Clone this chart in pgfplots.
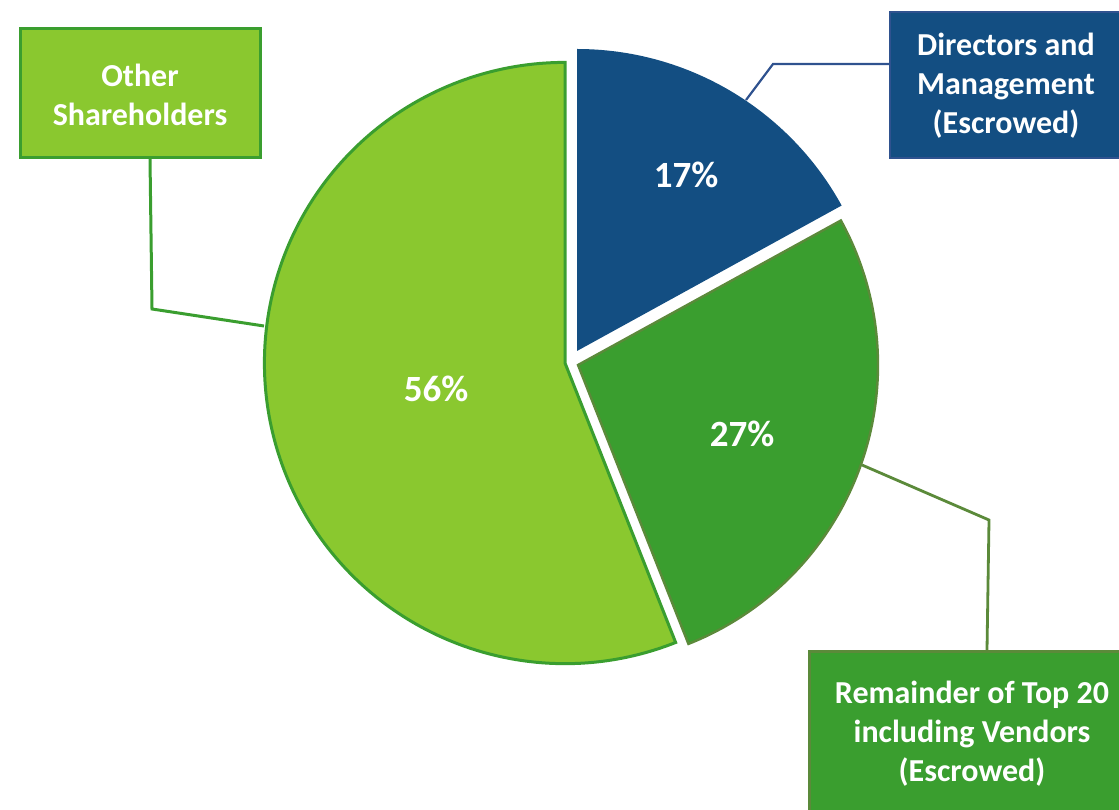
\documentclass[border=0pt]{standalone}
\usepackage{pgfplots}
\pgfplotsset{compat=1.18}
\usepackage{pgfplotstable}
\usepackage{fontspec}
\setmainfont{Carlito}

\definecolor{dirblue}{HTML}{134E82}
\definecolor{dirline}{HTML}{2F528F}
\definecolor{topgreen}{HTML}{3A9E2F}
\definecolor{topline}{HTML}{5B8A3A}
\definecolor{othgreen}{HTML}{8AC82F}
\definecolor{othline}{HTML}{3A9E2F}

% share of each holder group, with the apex of its (exploded) slice in px
\pgfplotstableread{
label value cx cy
Directors 17 577 458
Remainder 27 578 444
Other 56 565 446
}\slices

\pgfplotstablegetelem{0}{value}\of\slices \let\vA\pgfplotsretval
\pgfplotstablegetelem{1}{value}\of\slices \let\vB\pgfplotsretval
\pgfplotstablegetelem{2}{value}\of\slices \let\vC\pgfplotsretval
\pgfmathsetmacro\aS{90}
\pgfmathsetmacro\aA{90-3.6*\vA}
\pgfmathsetmacro\aB{\aA-3.6*\vB}
\pgfmathsetmacro\aC{\aB-3.6*\vC}

\newcommand\lblfont{\fontsize{16pt}{19.5pt}\selectfont\bfseries}
\newcommand\pctfont{\fontsize{18.5pt}{22pt}\selectfont\bfseries}

\begin{document}
\begin{tikzpicture}
\begin{axis}[
    x=0.5pt, y=0.5pt,
    xmin=0, xmax=1119,
    ymin=0, ymax=809,
    hide axis,
    clip=false,
]
% Other shareholders
\filldraw[fill=othgreen, draw=othline, line width=1.5pt]
  (axis cs:565,446) -- ++(\aB:150.3pt) arc[start angle=\aB, end angle=\aC, radius=150.3pt] -- cycle;
% Remainder of top 20
\filldraw[fill=topgreen, draw=topline, line width=1.2pt]
  (axis cs:578,444) -- ++(\aA:150pt) arc[start angle=\aA, end angle=\aB, radius=150pt] -- cycle;
% Directors
\fill[dirblue]
  (axis cs:577,458) -- ++(\aS:151pt) arc[start angle=\aS, end angle=\aA, radius=151pt] -- cycle;

\node[text=white, font=\pctfont] at (axis cs:686,634) {\vA\%};
\node[text=white, font=\pctfont] at (axis cs:742,375) {\vB\%};
\node[text=white, font=\pctfont] at (axis cs:436,420) {\vC\%};

% leader lines
\draw[othline, line width=1.5pt] (axis cs:150,650) -- (axis cs:152,500) -- (axis cs:264,483);
\draw[dirline, line width=1.1pt] (axis cs:889,745) -- (axis cs:773,745) -- (axis cs:746,709);
\draw[topline, line width=1.4pt] (axis cs:987,159) -- (axis cs:989,289) -- (axis cs:862,344);

% label boxes
\filldraw[fill=othgreen, draw=othline, line width=1.5pt] (axis cs:20,780) rectangle (axis cs:260,651);
\node[text=white, font=\lblfont, align=center] at (axis cs:140,714) {Other\\Shareholders};
\filldraw[fill=dirblue, draw=dirline, line width=1.2pt] (axis cs:890,797) rectangle (axis cs:1125,651);
\node[text=white, font=\lblfont, align=center] at (axis cs:1006,723) {Directors and\\Management\\(Escrowed)};
\filldraw[fill=topgreen, draw=topline, line width=1.5pt] (axis cs:809,158) rectangle (axis cs:1125,-10);
\node[text=white, font=\lblfont, align=center] at (axis cs:972,75) {Remainder of Top 20\\including Vendors\\(Escrowed)};
\end{axis}
\pgfresetboundingbox
\useasboundingbox (0,0) rectangle (559.5pt,404.5pt);
\end{tikzpicture}
\end{document}
